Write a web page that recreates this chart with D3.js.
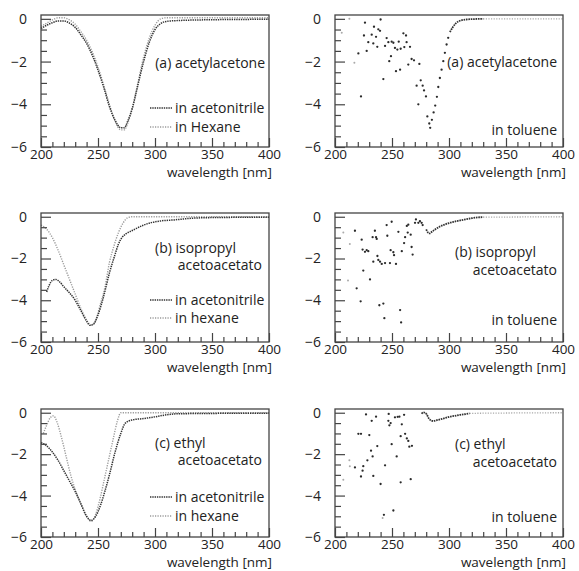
<!DOCTYPE html>
<html><head><meta charset="utf-8">
<script src="https://cdn.jsdelivr.net/npm/d3@7"></script>
<style>
body{margin:0;background:#fff;}
text{font-family:"Open Sans",sans-serif;fill:#222;}
</style></head>
<body><svg id="c" width="579" height="571"></svg>
<script>
// ---- data ----
const xTicks = [200, 250, 300, 350, 400];
const yTicks = [0, -2, -4, -6];
const xLabel = "wavelength [nm]";

// (a) acetylacetone
const acnA = [[200,-0.45],[205,-0.3],[210,-0.18],[215,-0.1],[220,-0.1],[225,-0.2],[230,-0.4],[235,-0.75],[240,-1.15],[245,-1.7],[250,-2.4],[255,-3.2],[260,-4.1],[265,-4.75],[270,-5.1],[273,-5.1],[276,-4.8],[280,-4.2],[285,-3.1],[290,-2.0],[295,-1.1],[300,-0.5],[305,-0.22],[310,-0.12],[320,-0.08],[340,-0.05],[370,-0.03],[400,-0.02]];
const hexA = [[200,-0.35],[205,-0.2],[210,-0.05],[215,0.05],[220,0.05],[225,-0.05],[230,-0.25],[235,-0.6],[240,-1.0],[245,-1.55],[250,-2.25],[255,-3.1],[260,-4.0],[265,-4.8],[270,-5.2],[273,-5.2],[276,-4.9],[280,-4.2],[285,-3.0],[290,-1.8],[295,-0.9],[300,-0.3],[305,0],[310,0.05],[400,0.05]];
// (b) isopropyl acetoacetato
const acnB = [[205,-3.6],[207,-3.3],[210,-3.05],[213,-3.0],[216,-3.1],[220,-3.35],[225,-3.65],[230,-4.0],[235,-4.5],[240,-5.0],[243,-5.2],[246,-5.15],[250,-4.7],[255,-3.8],[260,-2.7],[265,-1.8],[268,-1.3],[271,-1.0],[275,-0.8],[280,-0.66],[290,-0.4],[296,-0.29],[305,-0.2],[317,-0.15],[330,-0.08],[350,-0.04],[400,-0.02]];
const hexB = [[200,-0.4],[205,-0.6],[210,-1.0],[215,-1.6],[220,-2.3],[225,-3.0],[230,-3.7],[235,-4.4],[240,-4.95],[244,-5.2],[248,-4.95],[252,-4.2],[256,-3.4],[260,-2.2],[264,-1.4],[268,-0.75],[272,-0.3],[276,-0.05],[280,0],[400,0]];
// (c) ethyl acetoacetato
const acnC = [[200,-1.45],[205,-1.6],[210,-1.9],[215,-2.3],[220,-2.8],[225,-3.3],[230,-3.8],[235,-4.4],[240,-5.0],[244,-5.2],[248,-5.0],[252,-4.5],[256,-3.8],[260,-3.0],[265,-1.9],[270,-1.0],[274,-0.5],[280,-0.35],[290,-0.28],[300,-0.2],[310,-0.1],[320,-0.05],[400,-0.02]];
const hexC = [[202,-1.0],[205,-0.6],[208,-0.25],[211,-0.15],[214,-0.45],[218,-1.2],[222,-2.1],[226,-3.0],[230,-3.7],[235,-4.4],[240,-5.0],[244,-5.25],[248,-4.9],[252,-4.1],[256,-3.1],[260,-2.1],[264,-1.1],[267,-0.4],[270,0],[400,0]];

// toluene
const tolAScatter = [[220.5,-1.62],[222.8,-3.63],[225.4,-0.78],[226.3,-0.18],[227.8,-1.5],[229.2,-1.09],[232.2,-0.74],[233.6,-1.15],[234.2,-0.37],[236,-0.84],[237.1,-1.31],[238,-0.49],[239.5,-0.56],[240,-0.03],[242.4,-2.82],[243.9,-1.27],[245.3,-0.9],[246.8,-1.09],[247.6,-1.98],[249.1,-1.75],[249.7,-1.07],[251.2,-1.12],[252.6,-1.36],[253.5,-2.45],[254.7,-1.44],[255.9,-1.07],[257.1,-2.38],[257.6,-1.4],[260,-0.68],[260.8,-1.32],[262.3,-0.78],[262.8,-1.09],[264.3,-2.14],[265.8,-1.31],[267.2,-1.88],[269.3,-1.94],[271.6,-3.13],[273.1,-4.0],[274,-2.11],[275.2,-2.88],[276.9,-3.13],[278.1,-3.35],[279.8,-3.63],[281,-4.57],[282.7,-4.9],[283.5,-5.1],[285,-4.73],[286.5,-4.38],[287.9,-4.06],[289.4,-3.65],[290.6,-3.19],[292,-2.77],[293.5,-2.38],[295,-1.98],[296.4,-1.59],[297.9,-1.2],[299.3,-0.89]];
const tolALight = [[205.9,-0.65],[212.6,0],[217,-2.06]];
const tolACurve = [[300.8,-0.62],[303.1,-0.41],[306,-0.21],[309,-0.1],[315,-0.03],[322,-0.01],[330,0]];
const tolATail = [[330,0],[365,0],[400,0]];

const tolBScatter = [[217.5,-0.67],[219,-3.43],[222.5,-4.05],[223.4,-1.1],[224.2,-1.57],[224.8,-2.58],[226.3,-1.68],[227.8,-1.6],[229.2,-1.65],[230.7,-3.0],[233,-0.98],[233.6,-2.15],[235,-0.67],[236,-0.98],[236.6,-1.06],[237.2,-1.88],[238,-2.07],[239.5,-2.15],[238.9,-4.24],[241,-2.26],[242.4,-4.16],[243.3,-4.86],[243.9,-2.22],[245.3,-0.4],[245.9,-0.91],[248.2,-2.22],[249.7,-0.24],[248.8,-1.6],[251.2,-1.7],[251.8,-1.84],[253.5,-2.26],[255.6,-0.72],[257.1,-4.47],[258,-5.06],[258.6,-1.65],[260.6,-1.26],[261.5,-0.98],[263,-0.44],[263.8,-0.76],[264.3,-0.38],[266.4,-0.86],[267.2,-1.45],[268.1,-1.81],[270.2,-0.29],[271,-0.13],[273.1,-0.29],[274.5,-0.21],[276,-0.29],[276.9,-0.4]];
const tolBLight = [[207.3,-0.75],[211.4,-3.05],[213,-1.3]];
const tolBCurve = [[280,-0.6],[281.5,-0.75],[283,-0.8],[285,-0.72],[288,-0.6],[292,-0.47],[296,-0.38],[300,-0.3],[305,-0.23],[310,-0.17],[315,-0.12],[320,-0.07],[325,-0.03],[330,-0.02]];
const tolBTail = [[330,-0.02],[365,-0.01],[400,0]];

const tolCScatter = [[217.5,-2.64],[220.5,-1.02],[222.8,-1.02],[222.8,-3.08],[224.2,-2.8],[224.8,-2.58],[227.2,-0.08],[230.1,-1.08],[228.4,-2.3],[231.6,-1.83],[232.2,-0.39],[233,-2.11],[233.6,-3.05],[236,-0.19],[237.1,-1.61],[240,-3.44],[242.9,-4.93],[243.9,-2.54],[247.1,-0.06],[246.8,-0.39],[247.7,-0.61],[248.8,-0.5],[249.7,-1.52],[251.2,-4.72],[252.6,-0.22],[254.1,-2.11],[255,-0.2],[256.5,-0.19],[257.6,-3.36],[257.6,-1.13],[258.6,-0.56],[260.6,-0.1],[261.5,-1.02],[263,-1.24],[264.3,-1.36],[265.2,-1.64],[266.4,-3.21],[267.5,-1.6]];
const tolCLight = [[207.3,-3.24],[212.6,-2.3],[213,-2.58],[241.8,-5.08]];
const tolCCurve = [[276,-0.05],[277.5,0.02],[279,0.0],[280.5,-0.08],[282,-0.25],[284,-0.37],[286,-0.4],[290,-0.35],[295,-0.28],[300,-0.2],[305,-0.15],[310,-0.1],[315,-0.06],[318,-0.03]];
const tolCTail = [[318,-0.03],[360,-0.01],[400,0]];

// ---- layout ----
const svg = d3.select("#c");
const rows = [{top:15,bottom:147},{top:213,bottom:342},{top:409,bottom:537}];
const cols = [{left:41,right:269},{left:335,right:563}];

const panels = [
  {r:0,c:0,type:"solvent",acn:acnA,hex:hexA,title:["(a) acetylacetone"],hexName:"in Hexane"},
  {r:0,c:1,type:"toluene",sc:tolAScatter,lt:tolALight,cu:tolACurve,tail:tolATail,title:["(a) acetylacetone"]},
  {r:1,c:0,type:"solvent",acn:acnB,hex:hexB,title:["(b) isopropyl","acetoacetato"],hexName:"in hexane"},
  {r:1,c:1,type:"toluene",sc:tolBScatter,lt:tolBLight,cu:tolBCurve,tail:tolBTail,title:["(b) isopropyl","acetoacetato"]},
  {r:2,c:0,type:"solvent",acn:acnC,hex:hexC,title:["(c) ethyl","acetoacetato"],hexName:"in hexane"},
  {r:2,c:1,type:"toluene",sc:tolCScatter,lt:tolCLight,cu:tolCCurve,tail:tolCTail,title:["(c) ethyl","acetoacetato"]}
];

panels.forEach(p=>{
  const R = rows[p.r], C = cols[p.c];
  const x = d3.scaleLinear().domain([200,400]).range([C.left,C.right]);
  const y = d3.scaleLinear().domain([-6,0.18]).range([R.bottom,R.top]);
  const g = svg.append("g");
  const line = d3.line().x(d=>x(d[0])).y(d=>y(d[1])).curve(d3.curveMonotoneX);

  if(p.type==="solvent"){
    g.append("path").datum(p.hex).attr("d",line).attr("fill","none")
      .attr("stroke","#9a9a9a").attr("stroke-width",1.4).attr("stroke-dasharray","1.2,1.3");
    g.append("path").datum(p.acn).attr("d",line).attr("fill","none")
      .attr("stroke","#333").attr("stroke-width",1.5).attr("stroke-dasharray","1.4,0.9");
  } else {
    g.append("path").datum(p.tail).attr("d",line).attr("fill","none")
      .attr("stroke","#aaa").attr("stroke-width",1.3).attr("stroke-dasharray","1.2,1.4");
    g.append("path").datum(p.cu).attr("d",line).attr("fill","none")
      .attr("stroke","#333").attr("stroke-width",1.8).attr("stroke-dasharray","1.6,0.8");
    g.selectAll("circle.lt").data(p.lt).join("circle").attr("class","lt")
      .attr("cx",d=>x(d[0])).attr("cy",d=>y(d[1])).attr("r",1).attr("fill","#aaa");
    g.selectAll("circle.sc").data(p.sc).join("circle").attr("class","sc")
      .attr("cx",d=>x(d[0])).attr("cy",d=>y(d[1])).attr("r",1.15).attr("fill","#2a2a2a");
  }

  // frame
  g.append("rect").attr("x",C.left).attr("y",R.top).attr("width",C.right-C.left).attr("height",R.bottom-R.top)
    .attr("fill","none").attr("stroke","#444").attr("stroke-width",1.3);

  // x axis: major + minor inward ticks
  const minorX = d3.range(200,401,10).filter(v=>v%50!==0);
  const xMaj = g.append("g").attr("transform",`translate(0,${R.bottom})`)
    .call(d3.axisBottom(x).tickValues(xTicks).tickSize(-9).tickPadding(2).tickFormat(d3.format("d")));
  const xMin = g.append("g").attr("transform",`translate(0,${R.bottom})`)
    .call(d3.axisBottom(x).tickValues(minorX).tickSize(-5).tickFormat(""));
  // y axis
  const minorY = d3.range(-6,0.01,0.5).filter(v=>v%2!==0);
  const yMaj = g.append("g").attr("transform",`translate(${C.left},0)`)
    .call(d3.axisLeft(y).tickValues(yTicks).tickSize(-10).tickPadding(14).tickFormat(d=>d===0?"0":"\u2212"+Math.abs(d)));
  const yMin = g.append("g").attr("transform",`translate(${C.left},0)`)
    .call(d3.axisLeft(y).tickValues(minorY).tickSize(-6).tickFormat(""));
  [xMaj,xMin,yMaj,yMin].forEach(a=>{
    a.select(".domain").remove();
    a.selectAll(".tick line").attr("stroke","#444").attr("stroke-width",1.2);
    a.selectAll("text").attr("font-size",14).attr("font-family","Open Sans").attr("fill","#222");
  });
  xMaj.selectAll("text").attr("font-size",13.5);

  g.append("text").attr("x",C.right+3).attr("y",R.bottom+30).attr("text-anchor","end")
    .attr("font-size",13.5).text(xLabel);

  // titles / legends
  const off = R.top - rows[0].top;
  if(p.type==="solvent"){
    if(p.title.length===1){
      g.append("text").attr("x",C.right-4).attr("y",68+off).attr("text-anchor","end").attr("font-size",14).text(p.title[0]);
    } else {
      const base = p.r===1 ? 253 : 448;
      g.append("text").attr("x",C.left+114).attr("y",base).attr("font-size",14).text(p.title[0]);
      g.append("text").attr("x",C.right-7).attr("y",base+17).attr("text-anchor","end").attr("font-size",14).text(p.title[1]);
    }
    const ly = p.r===0 ? [113,132] : p.r===1 ? [305,323] : [502,521];
    g.append("line").attr("x1",150).attr("x2",172).attr("y1",ly[0]-5).attr("y2",ly[0]-5)
      .attr("stroke","#333").attr("stroke-width",1.5).attr("stroke-dasharray","1.4,0.9");
    g.append("line").attr("x1",150).attr("x2",172).attr("y1",ly[1]-5).attr("y2",ly[1]-5)
      .attr("stroke","#9a9a9a").attr("stroke-width",1.4).attr("stroke-dasharray","1.2,1.3");
    g.append("text").attr("x",175).attr("y",ly[0]).attr("font-size",14).text("in acetonitrile");
    g.append("text").attr("x",175).attr("y",ly[1]).attr("font-size",14).text(p.hexName);
  } else {
    if(p.title.length===1){
      g.append("text").attr("x",C.right-6).attr("y",67).attr("text-anchor","end").attr("font-size",14).text(p.title[0]);
      g.append("text").attr("x",C.right-6).attr("y",135).attr("text-anchor","end").attr("font-size",14).text("in toluene");
    } else {
      const base = p.r===1 ? 257 : 449;
      g.append("text").attr("x",C.left+120).attr("y",base).attr("font-size",14).text(p.title[0]);
      g.append("text").attr("x",C.right-6).attr("y",base+18).attr("text-anchor","end").attr("font-size",14).text(p.title[1]);
      g.append("text").attr("x",C.right-6).attr("y",p.r===1?325:522).attr("text-anchor","end").attr("font-size",14).text("in toluene");
    }
  }
});
</script></body></html>
